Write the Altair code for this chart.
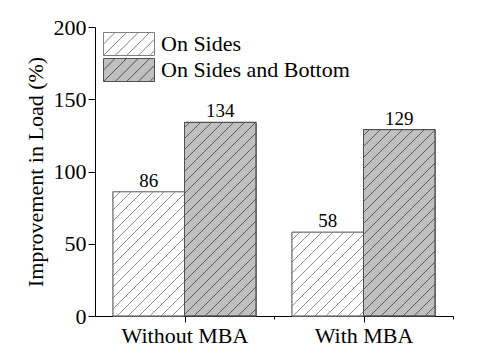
import altair as alt
import pandas as pd
import numpy as np

# ---- data ----
groups = ["Without MBA", "With MBA"]
series = ["On Sides", "On Sides and Bottom"]
on_sides = [86, 58]
sides_bottom = [134, 129]
y_title = "Improvement in Load (%)"

# ---- style / layout ----
W, H = 358, 289
Y_MAX = 200
X_MIN, X_MAX = 0.5, 2.5
BAR_W = 0.4
HATCH_STEP = 11.0
FONT = "Liberation Serif"
fills = ["#ffffff", "#c0c0c0"]
strokes = ["#808080", "#505050"]

px_x = W / (X_MAX - X_MIN)
px_y = H / Y_MAX

rows = []
for gi, g in enumerate(groups):
    for si, s in enumerate(series):
        v = [on_sides, sides_bottom][si][gi]
        x0 = (gi + 1) - BAR_W + BAR_W * si
        rows.append({"group": g, "series": s, "value": v,
                     "x0": x0, "x1": x0 + BAR_W, "xm": x0 + BAR_W / 2, "base": 0})
bars = pd.DataFrame(rows)

# hatch segments ("/" at 45 degrees in pixel space), clipped to each bar
hrows = []
for r in rows:
    X0 = (r["x0"] - X_MIN) * px_x
    X1 = (r["x1"] - X_MIN) * px_x
    Y1 = r["value"] * px_y
    c = np.floor((X0 - Y1) / HATCH_STEP) * HATCH_STEP
    while c < X1:
        xa = max(X0, c)
        xb = min(X1, c + Y1)
        if xb - xa > 0.5:
            hrows.append({"series": r["series"],
                          "hx": xa / px_x + X_MIN, "hy": (xa - c) / px_y,
                          "hx2": xb / px_x + X_MIN, "hy2": (xb - c) / px_y})
        c += HATCH_STEP
hatch = pd.DataFrame(hrows)

# legend symbol: hatched box drawn as one custom path (units of sqrt(size)/2)
R = 2.0 * 51 / 23 - 1  # right edge so that the box is 51 x 23 px
parts = [f"M-1,-1H{R:.3f}V1H-1Z"]
step_u = HATCH_STEP / 11.5 * 1.05
a = -3.0
while a < R:
    xs, ys = a, 1.0
    if xs < -1:
        ys = 1 - (-1 - a)
        xs = -1
    xe, ye = a + 2, -1.0
    if xe > R:
        ye = 1 - (R - a)
        xe = R
    if xe - xs > 0.05:
        parts.append(f"M{xs:.3f},{ys:.3f}L{xe:.3f},{ye:.3f}")
    a += step_u
symbol_path = "".join(parts)

xscale = alt.Scale(domain=[X_MIN, X_MAX], nice=False, zero=False)
yscale = alt.Scale(domain=[0, Y_MAX], nice=False)

label_expr = " : ".join(
    [f"datum.value == {i + 1} ? '{g}'" for i, g in enumerate(groups)]) + " : ''"

x_axis = alt.Axis(values=[1, 1.5, 2, 2.5], labelExpr=label_expr, title=None, grid=False,
                  tickSize={"condition": {"test": "datum.value % 1 != 0", "value": 3}, "value": 6},
                  labelPadding=3, labelFontSize=22, labelFont=FONT, labelColor="black",
                  domainColor="black", tickColor="black")
y_axis = alt.Axis(values=list(range(0, 201, 25)), grid=False,
                  labelExpr="datum.value % 50 == 0 ? datum.label : ''",
                  tickSize={"condition": {"test": "datum.value % 50 != 0", "value": 4}, "value": 7},
                  labelPadding=2, labelFontSize=22, labelFont=FONT, labelColor="black",
                  domainColor="black", tickColor="black",
                  title=y_title, titleFontSize=22, titleColor="black",
                  titleFontWeight="normal", titleFont=FONT, titlePadding=6)

fill_scale = alt.Scale(domain=series, range=fills)
stroke_scale = alt.Scale(domain=series, range=strokes)

legend = alt.Legend(orient="none", legendX=8, legendY=5, title=None,
                    symbolType=symbol_path, symbolSize=529, symbolStrokeWidth=1,
                    labelOffset=34, labelFont=FONT, labelFontSize=22,
                    labelColor="black", padding=0, rowPadding=-3, labelLimit=400)

base = alt.Chart(bars)

bar_layer = base.mark_rect(strokeWidth=1).encode(
    x=alt.X("x0:Q", scale=xscale, axis=x_axis),
    x2="x1:Q",
    y=alt.Y("value:Q", scale=yscale, axis=y_axis),
    y2="base:Q",
    fill=alt.Fill("series:N", scale=fill_scale, legend=legend),
    stroke=alt.Stroke("series:N", scale=stroke_scale, legend=legend),
)

hatch_layer = alt.Chart(hatch).mark_rule(strokeWidth=0.9).encode(
    x="hx:Q", x2="hx2:Q", y="hy:Q", y2="hy2:Q",
    stroke=alt.Stroke("series:N", scale=stroke_scale, legend=None),
)

outline_layer = base.mark_rect(fillOpacity=0, strokeWidth=1).encode(
    x="x0:Q", x2="x1:Q", y="value:Q", y2="base:Q",
    stroke=alt.Stroke("series:N", scale=stroke_scale, legend=None),
)

text_layer = base.mark_text(font=FONT, fontSize=19, baseline="alphabetic",
                            dy=-5, color="black").encode(
    x="xm:Q", y="value:Q", text="value:Q",
)

chart = alt.layer(bar_layer, hatch_layer, outline_layer, text_layer).properties(
    width=W, height=H,
    autosize=alt.AutoSizeParams(type="none"),
    padding={"left": 87, "top": 19, "right": 15, "bottom": 30},
).configure(
    font=FONT, background="white",
).configure_view(stroke=None).configure_axis(
    grid=False, domainColor="black", tickColor="black", labelColor="black",
    labelFont=FONT, labelFontSize=22, titleColor="black", domainWidth=1, tickWidth=1,
).configure_legend(
    labelFont=FONT, labelFontSize=22, labelColor="black",
).configure_text(font=FONT)

chart.save("out.html", embed_options={"renderer": "svg", "actions": False})
